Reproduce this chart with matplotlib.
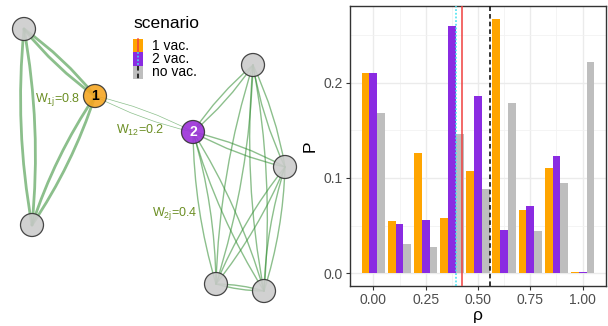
import matplotlib
matplotlib.use('Agg')
import matplotlib.pyplot as plt
import numpy as np
from matplotlib.patches import Circle, FancyArrowPatch, Rectangle
from matplotlib.lines import Line2D

plt.rcParams['font.family'] = ['Liberation Sans', 'DejaVu Sans']
plt.rcParams['mathtext.fontset'] = 'custom'
plt.rcParams['mathtext.rm'] = 'Liberation Sans'
plt.rcParams['mathtext.it'] = 'Liberation Sans:italic'

# bar chart data: distribution of rho per scenario
rho_bins = [0.0, 0.125, 0.25, 0.375, 0.5, 0.625, 0.75, 0.875, 1.0]
p_1vac = [0.210, 0.055, 0.126, 0.058, 0.107, 0.267, 0.066, 0.110, 0.001]
p_2vac = [0.210, 0.052, 0.056, 0.259, 0.186, 0.0455, 0.071, 0.123, 0.001]
p_novac = [0.168, 0.031, 0.028, 0.146, 0.0885, 0.178, 0.044, 0.095, 0.222]

# mean rho per scenario
mean_1vac = 0.425
mean_2vac = 0.397
mean_novac = 0.559

scenarios = ['1 vac.', '2 vac.', 'no vac.']
bar_cols = ['#FFA500', '#8A2BE2', '#BEBEBE']
line_cols = ['#F0403F', '#3FE0F0', '#000000']
line_styles = ['-', (0, (1.2, 1.2)), (0, (3, 2))]

# network layout (pixel positions on the left panel)
node_names = ['A', '1', 'B', '2', 'C', 'D', 'E', 'F']
node_x = [24, 95, 32, 193, 253, 285, 216, 264]
node_y = [29, 96, 225, 132, 65, 167, 284, 291]
node_cols = ['#CCCCCC', '#F5A623', '#CCCCCC', '#9B30D9', '#CCCCCC', '#CCCCCC', '#CCCCCC', '#CCCCCC']
cluster1 = ['A', '1', 'B']
cluster2 = ['2', 'C', 'D', 'E', 'F']
w_1j = 0.8
w_12 = 0.2
w_2j = 0.4

fig = plt.figure(figsize=(6.08, 3.26), dpi=100)

# ---------------- network panel ----------------
ax_net = fig.add_axes([0, 0, 300 / 608, 1])
ax_net.set_xlim(0, 300)
ax_net.set_ylim(326, 0)
ax_net.axis('off')

pos = {n: (x, y) for n, x, y in zip(node_names, node_x, node_y)}
edge_col = '#2E8B2E'

def draw_edges(pairs, weight):
    for a, b in pairs:
        for rad in (-0.07, 0.07):
            e = FancyArrowPatch(pos[a], pos[b], connectionstyle='arc3,rad=%g' % rad,
                                arrowstyle='-', color=edge_col, lw=2.5 * weight,
                                alpha=0.55, shrinkA=0, shrinkB=0, zorder=1)
            ax_net.add_patch(e)

pairs1 = [(cluster1[i], cluster1[j]) for i in range(len(cluster1)) for j in range(i + 1, len(cluster1))]
pairs2 = [(cluster2[i], cluster2[j]) for i in range(len(cluster2)) for j in range(i + 1, len(cluster2))]
draw_edges(pairs1, w_1j)
draw_edges([('1', '2')], w_12)
draw_edges(pairs2, w_2j)

for n, c in zip(node_names, node_cols):
    ax_net.add_patch(Circle(pos[n], 11.5, fc=c, ec='#333333', lw=0.9, alpha=0.9, zorder=3))
ax_net.text(*pos['1'], '1', ha='center', va='center', fontsize=10, fontweight='bold',
            color='black', zorder=4)
ax_net.text(*pos['2'], '2', ha='center', va='center', fontsize=10, fontweight='bold',
            color='white', zorder=4)

lab_col = '#6B8E23'
ax_net.text(80, 100, r'W$_{\mathrm{1j}}$=0.8', color=lab_col, fontsize=9, va='center', ha='right')
ax_net.text(116, 130, r'W$_{\mathrm{12}}$=0.2', color=lab_col, fontsize=9, va='center')
ax_net.text(197, 213, r'W$_{\mathrm{2j}}$=0.4', color=lab_col, fontsize=9, va='center', ha='right')

# legend (drawn by hand, keys have vertical lines)
ax_net.text(133, 23, 'scenario', fontsize=12.5, va='center', ha='left')
key_top = 39
key_h = 13.3
for i, s in enumerate(scenarios):
    y0 = key_top + i * key_h
    ax_net.add_patch(Rectangle((133, y0), 10, key_h, fc=bar_cols[i], ec='none', zorder=3))
    ax_net.add_line(Line2D([138, 138], [y0, y0 + key_h], color=line_cols[i],
                           ls=line_styles[i], lw=1.1, zorder=4))
    ax_net.text(152, y0 + key_h / 2, s, fontsize=10, va='center', ha='left')

# ---------------- bar chart ----------------
ax = fig.add_axes([350 / 608, 40 / 326, 256 / 608, 280 / 326])
bw = 0.125 * 0.9 / 3
x = np.array(rho_bins)
for k, vals in enumerate([p_1vac, p_2vac, p_novac]):
    ax.bar(x + (k - 1) * bw, vals, width=bw, color=bar_cols[k], zorder=2)

ax.axvline(mean_2vac, color=line_cols[1], ls=line_styles[1], lw=1.1, zorder=3)
ax.axvline(mean_1vac, color=line_cols[0], ls=line_styles[0], lw=1.1, zorder=3)
ax.axvline(mean_novac, color=line_cols[2], ls=line_styles[2], lw=1.1, zorder=3)

ax.set_xlim(-0.1118, 1.1118)
ax.set_ylim(-0.0133, 0.2802)
ax.set_xticks([0, 0.25, 0.5, 0.75, 1.0])
ax.set_xticklabels(['0.00', '0.25', '0.50', '0.75', '1.00'])
ax.set_yticks([0.0, 0.1, 0.2])
ax.set_yticklabels(['0.0', '0.1', '0.2'])
ax.set_xticks([0.125, 0.375, 0.625, 0.875], minor=True)
ax.set_yticks([0.05, 0.15, 0.25], minor=True)
ax.grid(which='major', color='#EBEBEB', lw=1.0, zorder=0)
ax.grid(which='minor', color='#F2F2F2', lw=0.6, zorder=0)
ax.set_axisbelow(True)
ax.tick_params(which='major', length=3, width=0.8, color='#333333',
               labelsize=10, labelcolor='#4D4D4D', pad=2)
ax.tick_params(which='minor', length=0)
for sp in ax.spines.values():
    sp.set_color('#333333')
    sp.set_linewidth(1.0)
ax.set_xlabel('ρ', fontsize=12.5, labelpad=1)
ax.set_ylabel('P', fontsize=12.5, labelpad=4)

fig.savefig('out.png', dpi=100)
